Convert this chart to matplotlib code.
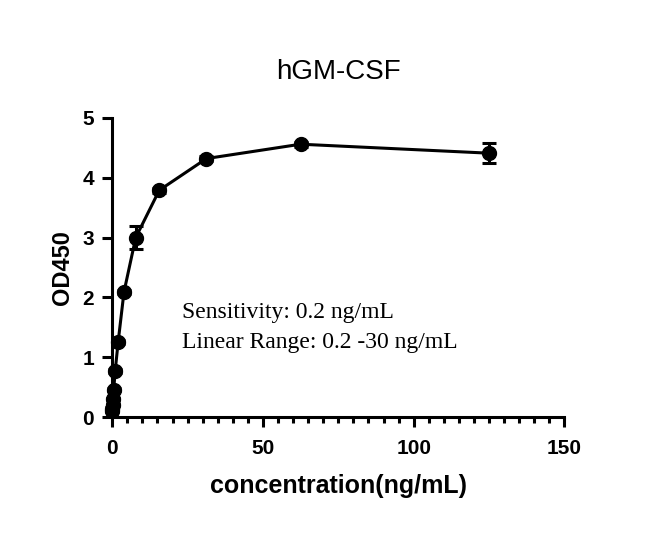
import matplotlib
matplotlib.use("Agg")
import matplotlib.pyplot as plt
from matplotlib.ticker import MultipleLocator

conc = [0, 0.06, 0.12, 0.24, 0.49, 0.98, 1.95, 3.9, 7.8, 15.6, 31.25, 62.5, 125]
od = [0.10, 0.14, 0.20, 0.30, 0.46, 0.77, 1.25, 2.09, 3.00, 3.79, 4.32, 4.56, 4.41]
err = [0.02, 0.02, 0.02, 0.02, 0.02, 0.03, 0.03, 0.04, 0.19, 0.04, 0.04, 0.04, 0.17]

fig = plt.figure(figsize=(6.45, 5.39), dpi=100)
ax = fig.add_axes([0.174, 0.2263, 0.701, 0.555])

ax.errorbar(conc, od, yerr=err, color="black", marker="o", markersize=10,
            linewidth=2.2, elinewidth=2.2, capsize=5, capthick=2.2)

ax.set_xlim(0, 150)
ax.set_ylim(0, 5)
ax.xaxis.set_major_locator(MultipleLocator(50))
ax.xaxis.set_minor_locator(MultipleLocator(5))
ax.yaxis.set_major_locator(MultipleLocator(1))

for s in ["top", "right"]:
    ax.spines[s].set_visible(False)
for s in ["left", "bottom"]:
    ax.spines[s].set_linewidth(2.2)
ax.tick_params(axis="both", which="major", length=7, width=2.2, direction="out", labelsize=15, pad=6)
ax.tick_params(axis="x", which="major", pad=9)
ax.tick_params(axis="x", which="minor", length=4, width=2.2, direction="out")
for lbl in ax.get_xticklabels() + ax.get_yticklabels():
    lbl.set_fontweight("bold")
    lbl.set_family("Liberation Sans")

ax.set_xlabel("concentration(ng/mL)", fontsize=18, fontweight="bold", family="Liberation Sans", labelpad=11)
ax.set_ylabel("OD450", fontsize=17, fontweight="bold", family="Liberation Sans", labelpad=6)
ax.set_title("hGM-CSF", fontsize=20, family="Liberation Sans", pad=28)

ax.text(23.3, 1.66, "Sensitivity: 0.2 ng/mL", fontsize=17, family="Liberation Serif", va="baseline")
ax.text(23.3, 1.15, "Linear Range: 0.2 -30 ng/mL", fontsize=17, family="Liberation Serif", va="baseline")

for c in ax.get_children():
    try:
        c.set_clip_on(False)
    except Exception:
        pass

fig.savefig("out.png", dpi=100)
